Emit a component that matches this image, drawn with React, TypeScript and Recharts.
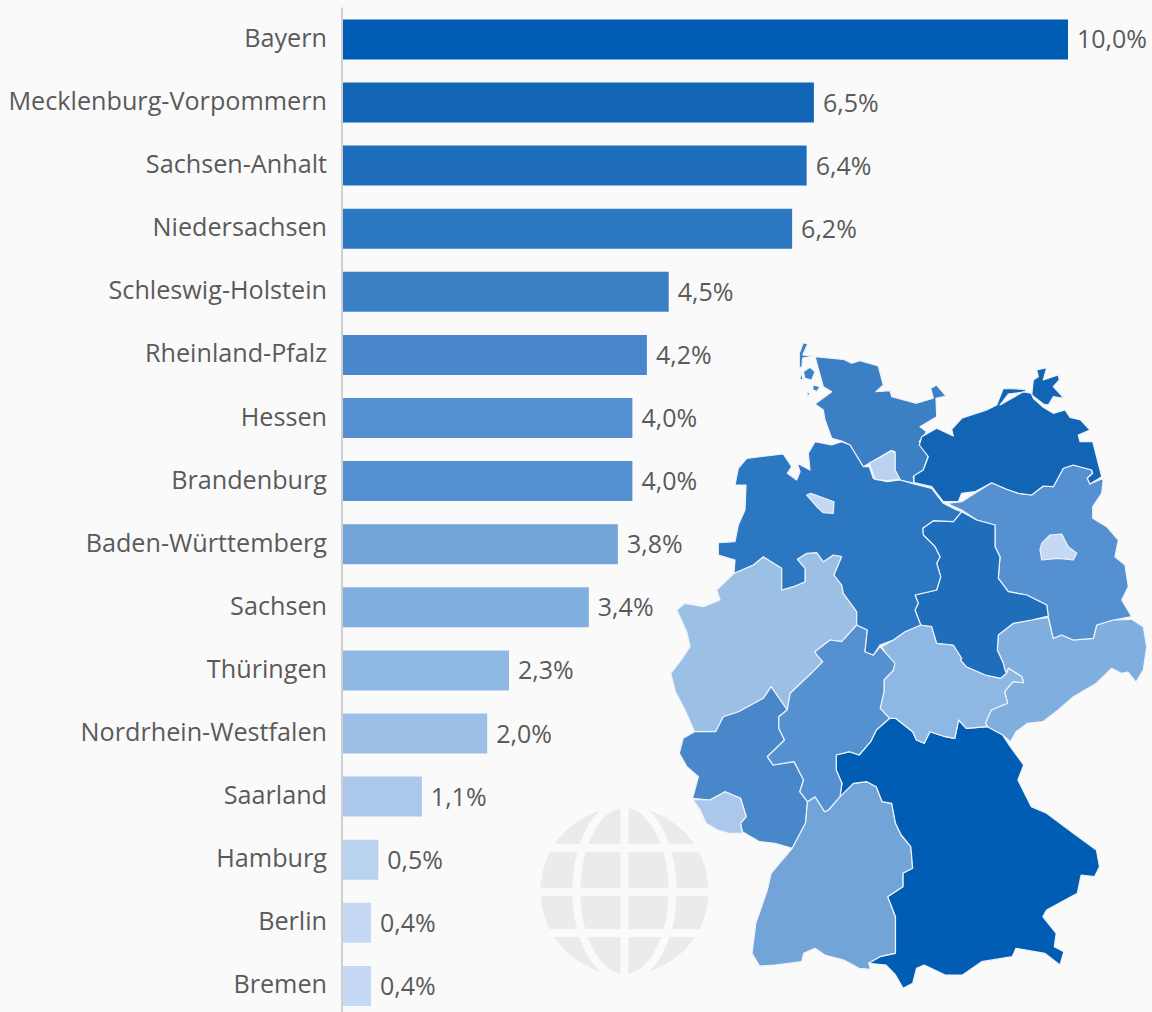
import React from "react";
import { BarChart, Bar, XAxis, YAxis, Cell, LabelList } from "recharts";

const states = ["Bayern","Mecklenburg-Vorpommern","Sachsen-Anhalt","Niedersachsen","Schleswig-Holstein","Rheinland-Pfalz","Hessen","Brandenburg","Baden-Württemberg","Sachsen","Thüringen","Nordrhein-Westfalen","Saarland","Hamburg","Berlin","Bremen"];
const shares = [10.0,6.5,6.4,6.2,4.5,4.2,4.0,4.0,3.8,3.4,2.3,2.0,1.1,0.5,0.4,0.4];
const colors = ["#005DB3","#1265B5","#1E6EBB","#2C77C1","#3B80C5","#4887CA","#5591D0","#5591D0","#72A4D8","#80AEDF","#8FB7E3","#9CBFE6","#ABC8EA","#B9D2F0","#C5D9F4","#C5D9F4"];
const rows = states.map((name, i) => ({ name, value: shares[i], color: colors[i] }));

type P = number[][];
const z1 = (p: P) => p.map(([x, y]) => [660 + x / 3, 330 + y / 3]);
const z2 = (p: P) => p.map(([x, y]) => [530 + x / 2.613, 660 + y / 3]);
const path = (p: P) => "M" + p.map(([x, y]) => `${x.toFixed(1)} ${y.toFixed(1)}`).join("L") + "Z";

const shNorth = z1([[465,80],[550,88],[575,100],[600,92],[655,108],[670,165],[648,185],[690,182],[695,200],[770,220],[820,205],[812,175],[830,165],[858,198],[828,205],[830,260],[780,290],[800,305],[778,335],[805,378],[790,420],[760,440],[762,460],[720,450],[705,420],[705,365],[692,362],[628,400],[610,410],[570,345],[545,333],[515,325],[495,270],[490,240],[465,222],[515,185],[490,170]]);
const sylt = z1([[430,38],[443,42],[428,75],[460,78],[428,84],[425,115],[418,110],[418,70]]);
const foehr = z1([[430,125],[450,112],[465,125],[455,150],[435,145]]);
const amrum = z1([[422,125],[430,150],[420,148]]);
const pell = z1([[460,165],[480,170],[470,185],[458,178]]);
const hallig = z1([[440,185],[450,190],[443,200]]);
const mv = z1([[785,320],[830,295],[880,318],[875,298],[905,265],[980,240],[1010,225],[1030,175],[1095,178],[1100,185],[1045,192],[1020,225],[1090,185],[1115,190],[1120,205],[1150,232],[1180,250],[1215,240],[1230,262],[1262,270],[1290,300],[1255,315],[1260,335],[1298,335],[1325,440],[1290,462],[1282,445],[1298,430],[1295,420],[1240,405],[1210,415],[1180,470],[1150,468],[1115,495],[1075,490],[1040,478],[995,458],[945,485],[905,490],[895,515],[850,515],[815,470],[762,458],[762,437],[790,420],[805,380],[778,345]]);
const ruegen = z1([[1130,120],[1160,113],[1150,150],[1178,140],[1195,135],[1198,150],[1180,170],[1212,205],[1180,200],[1165,225],[1150,222],[1115,195],[1120,150],[1135,140]]);
const nds = z1([[465,335],[515,345],[545,335],[570,345],[610,410],[628,410],[640,445],[680,455],[720,450],[762,462],[815,475],[850,520],[890,540],[905,545],[880,575],[820,572],[788,595],[790,615],[825,650],[840,680],[830,700],[842,740],[830,780],[765,795],[775,820],[765,840],[782,885],[735,905],[700,930],[660,945],[640,975],[615,965],[622,900],[590,885],[590,845],[550,790],[545,765],[522,735],[545,680],[520,675],[490,695],[470,668],[440,670],[412,688],[435,715],[435,755],[400,770],[365,780],[365,715],[310,680],[280,705],[222,730],[225,690],[175,675],[175,638],[225,635],[235,585],[255,540],[258,465],[225,465],[235,415],[260,385],[370,372],[395,410],[382,430],[410,450],[420,425],[412,400],[450,420],[445,370]]);
const bremen = z1([[440,495],[452,490],[522,515],[520,550],[490,548],[470,530]]);
const hamburg = z1([[628,400],[695,362],[705,370],[705,420],[720,448],[680,452],[645,448],[635,420]]);
const sa = [...z1([[905,545],[950,570],[1005,585],[1005,650],[1020,680],[1015,745],[1045,785],[1100,795],[1160,825],[1165,858],[1115,870],[1060,880],[1015,915],[1012,960],[1030,1000],[1035,1020]]),...z2([[1245,40],[1230,55],[1190,45],[1140,20],[1125,0]]),...z1([[905,985],[880,945],[830,940],[815,890],[782,885],[765,840],[775,820],[765,795],[830,780],[842,740],[830,700],[840,680],[825,650],[790,615],[788,595],[820,572],[880,575]])];
const bb = z1([[905,515],[945,490],[995,458],[1040,478],[1075,490],[1115,495],[1150,468],[1180,470],[1210,415],[1240,405],[1295,420],[1298,430],[1282,445],[1290,462],[1330,445],[1325,490],[1298,530],[1298,565],[1340,590],[1375,630],[1365,680],[1395,705],[1405,770],[1385,810],[1415,860],[1360,870],[1310,885],[1300,925],[1240,930],[1205,915],[1180,925],[1165,860],[1160,825],[1100,795],[1045,785],[1015,745],[1020,680],[1005,650],[1005,585],[950,570],[905,540],[860,520]]);
const berlin = z1([[1145,640],[1170,615],[1205,612],[1225,650],[1250,670],[1240,690],[1195,685],[1145,690],[1140,660]]);
const sn = [...z1([[1015,915],[1060,880],[1115,870],[1165,862],[1180,925],[1205,915],[1240,930],[1300,925],[1310,885],[1360,870],[1415,868],[1450,890],[1460,950],[1450,1020]]),[1136,682],[1128,672],...z2([[1545,40],[1520,25],[1480,70],[1420,110],[1380,150],[1340,185],[1300,190],[1270,215],[1255,245],[1235,225],[1200,205],[1190,190],[1205,150],[1248,130],[1240,95],[1262,65],[1290,68],[1285,50],[1250,25],[1245,40]]),...z1([[1035,1020],[1030,1000],[1012,960]])];
const th = [...z1([[782,885],[815,890],[830,940],[880,945],[905,985]]),...z2([[1125,0],[1140,20],[1190,45],[1230,55],[1245,40],[1250,25],[1285,50],[1290,68],[1262,65],[1240,95],[1248,130],[1205,150],[1190,190],[1195,200],[1140,205],[1120,180],[1110,235],[1085,230],[1045,215],[1030,250],[1010,240],[1000,215],[955,175],[940,175],[915,145],[925,95],[925,60],[950,30],[940,0]]),...z1([[665,950],[700,930],[735,905]])];
const he = [...z1([[465,965],[510,930],[545,935],[590,885],[622,900],[615,965],[640,975],[660,950],[705,1000],[700,1020]]),...z2([[950,30],[925,60],[925,95],[915,145],[940,175],[905,210],[890,245],[860,285],[835,275],[800,285],[800,330],[815,370],[810,410],[780,450],[770,455],[745,410],[725,425],[705,395],[715,360],[690,305],[635,315],[620,290],[665,240],[650,205],[650,170],[672,150],[680,100],[735,40],[765,5]]),...z1([[470,975]])];
const nrw = [...z1([[222,730],[280,705],[310,680],[365,715],[365,780],[400,770],[435,755],[435,715],[412,688],[440,670],[470,668],[490,695],[520,675],[545,680],[522,735],[545,765],[550,790],[590,845],[590,885],[545,935],[510,930],[465,965],[488,995]]),...z2([[765,5],[735,40],[680,100],[672,150],[630,80],[610,115],[545,155],[505,170],[485,215],[430,215],[405,150],[380,95],[368,40],[395,0]]),...z1([[90,950],[80,905],[50,840],[75,820],[130,830],[180,810],[170,780]])];
const rp = z2([[430,215],[485,215],[505,170],[545,155],[610,115],[630,80],[672,150],[650,170],[650,205],[665,240],[620,290],[635,315],[690,305],[715,360],[705,395],[725,425],[720,490],[685,565],[640,550],[600,545],[555,515],[550,490],[565,470],[550,415],[510,395],[470,420],[425,415],[440,350],[410,320],[390,280],[400,235]]);
const saar = z2([[425,418],[470,420],[510,395],[550,415],[565,470],[550,490],[555,520],[520,520],[490,510],[460,490],[445,450]]);
const bw = z2([[725,425],[745,410],[770,455],[780,450],[810,410],[845,370],[880,365],[905,380],[920,425],[945,430],[955,490],[970,525],[995,560],[1000,625],[975,640],[975,680],[935,710],[955,770],[955,880],[915,890],[885,910],[890,928],[860,925],[820,900],[770,885],[745,865],[715,880],[710,905],[640,915],[600,918],[580,880],[590,790],[620,690],[630,640],[685,565],[720,490]]);
const by = z2([[800,285],[835,275],[860,285],[890,245],[905,210],[940,175],[955,175],[1000,215],[1010,240],[1030,250],[1045,215],[1085,230],[1110,235],[1120,180],[1140,205],[1195,200],[1235,225],[1255,260],[1290,315],[1275,360],[1310,440],[1350,460],[1420,520],[1480,570],[1488,620],[1475,650],[1440,645],[1430,700],[1350,750],[1340,770],[1375,820],[1370,860],[1395,875],[1385,915],[1345,880],[1270,865],[1260,890],[1180,905],[1130,945],[1085,945],[1030,915],[1010,925],[1000,970],[975,985],[955,945],[930,915],[885,910],[915,890],[955,880],[955,770],[935,710],[975,680],[975,640],[1000,625],[995,560],[970,525],[955,490],[945,430],[920,425],[905,380],[880,365],[845,370],[810,410],[815,370],[800,330]]);

const colorOf = (name: string) => colors[states.indexOf(name)];
const mapShapes: [string, P[]][] = [
  ["Schleswig-Holstein", [shNorth, sylt, foehr, amrum, pell, hallig]],
  ["Nordrhein-Westfalen", [nrw]],
  ["Sachsen", [sn]],
  ["Rheinland-Pfalz", [rp]],
  ["Baden-Württemberg", [bw]],
  ["Bayern", [by]],
  ["Thüringen", [th]],
  ["Hessen", [he]],
  ["Brandenburg", [bb]],
  ["Sachsen-Anhalt", [sa]],
  ["Niedersachsen", [nds]],
  ["Mecklenburg-Vorpommern", [mv, ruegen]],
  ["Saarland", [saar]],
  ["Hamburg", [hamburg]],
  ["Bremen", [bremen]],
  ["Berlin", [berlin]],
];

const BG = "#fafafa";
const FONT = "'Open Sans', sans-serif";

function Tick({ x, y, payload }: any) {
  return (
    <text x={x - 7} y={y + 8} textAnchor="end" fontFamily={FONT} fontSize={25.2} fill="#5a5a5a">
      {payload.value}
    </text>
  );
}
function ValueLabel({ x, y, width, height, value }: any) {
  return (
    <text x={x + width + 9} y={y + height / 2 + 9} fontFamily={FONT} fontSize={25} fill="#5a5a5a">
      {Number(value).toFixed(1).replace(".", ",")}%
    </text>
  );
}

export default function App() {
  return (
    <div style={{ position: "absolute", left: 0, top: 0, width: 1152, height: 1012, overflow: "hidden", background: BG }}>
      <svg width={1152} height={1012} style={{ position: "absolute", left: 0, top: 0 }}>
        <g>
          <circle cx={624.5} cy={891} r={84} fill="#ebebeb" />
          <ellipse cx={624.5} cy={891} rx={48} ry={87} fill="none" stroke={BG} strokeWidth={8} />
          <line x1={624.5} y1={803} x2={624.5} y2={979} stroke={BG} strokeWidth={8} />
          <line x1={536} y1={848} x2={713} y2={848} stroke={BG} strokeWidth={8} />
          <line x1={536} y1={892} x2={713} y2={892} stroke={BG} strokeWidth={8} />
          <line x1={536} y1={933} x2={713} y2={933} stroke={BG} strokeWidth={8} />
        </g>
      </svg>
      <div style={{ position: "absolute", left: 0, top: 0 }}>
        <BarChart width={1152} height={1017} data={rows} layout="vertical" margin={{ top: 7.4, right: 84, bottom: 0, left: 0 }} barCategoryGap={23.1}>
          <XAxis type="number" domain={[0, 10]} hide />
          <YAxis type="category" dataKey="name" width={342} interval={0} tickLine={false} axisLine={{ stroke: "#cfcfcf", strokeWidth: 2 }} tick={<Tick />} />
          <Bar dataKey="value" barSize={40} isAnimationActive={false}>
            {rows.map((r) => <Cell key={r.name} fill={r.color} />)}
            <LabelList dataKey="value" content={<ValueLabel />} />
          </Bar>
        </BarChart>
      </div>
      <svg width={1152} height={1012} style={{ position: "absolute", left: 0, top: 0 }}>
        {mapShapes.map(([name, parts]) => (
          <path key={name} d={parts.map(path).join("")} fill={colorOf(name)} stroke="#eef3fa" strokeWidth={1.2} strokeLinejoin="round" />
        ))}
      </svg>
    </div>
  );
}
